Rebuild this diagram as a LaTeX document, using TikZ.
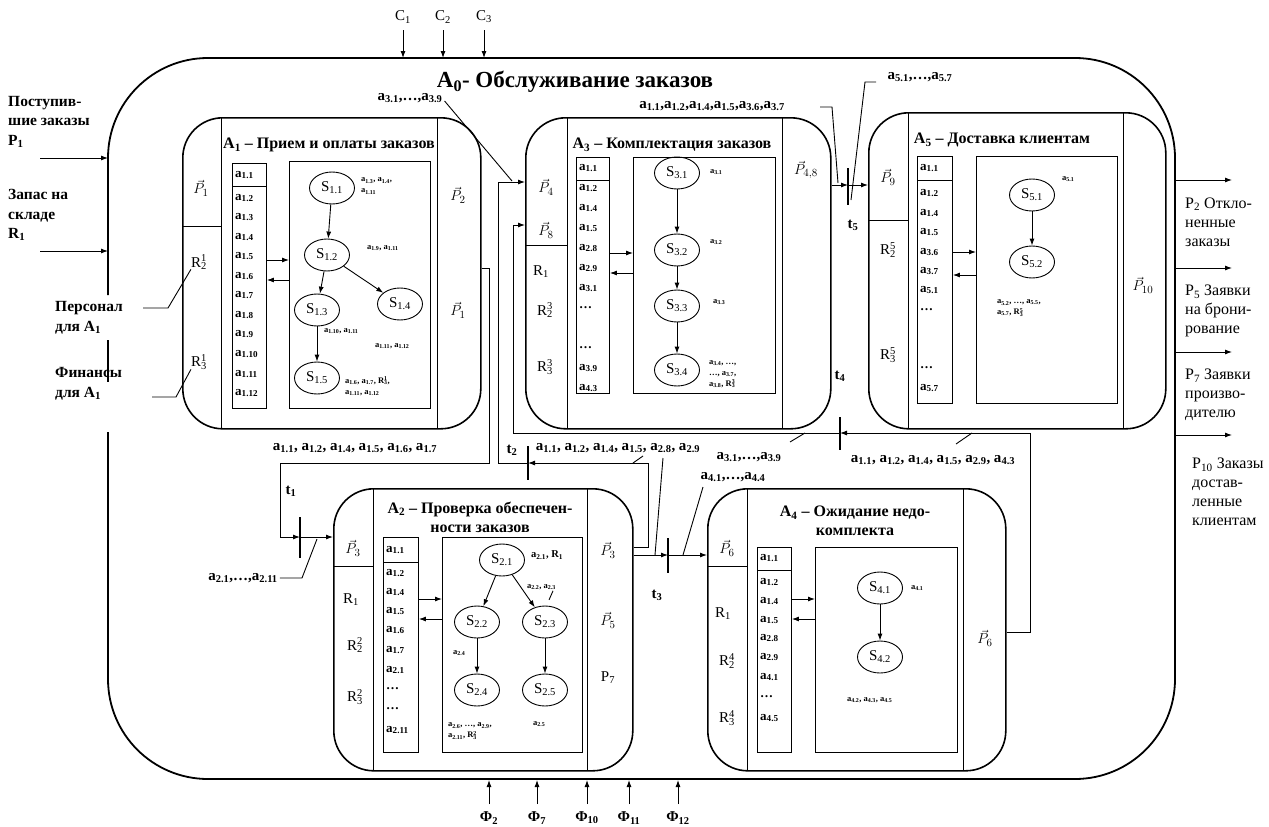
\documentclass[tikz,border=0pt]{standalone}
\usepackage{fontspec}
\setmainfont{Liberation Serif}
\usetikzlibrary{shapes.geometric,arrows.meta}
\newcommand\ai[1]{a\textsubscript{#1}}
\newcommand\Rr[2]{R\rlap{\textsuperscript{#1}}\textsubscript{#2}}
\newcommand\Pv[1]{$\vec{P}_{#1}$}
\newcommand\fs[1]{\fontsize{#1}{#1}\selectfont}
\begin{document}
\begin{tikzpicture}[x=1pt,y=-1pt,
  outer/.style={line width=1.8pt, rounded corners=100pt},
  blk/.style={draw, line width=1.6pt, rounded corners=40pt, anchor=north west, inner sep=0pt},
  bx/.style={draw, line width=0.9pt, anchor=north west, inner sep=0pt},
  ln/.style={line width=0.9pt},
  arr/.style={ln, -{Latex[length=7pt,width=5pt]}},
  tbar/.style={line width=2.2pt},
  st/.style={ellipse, draw, line width=0.9pt, minimum width=45pt, minimum height=32pt, inner sep=0pt, font=\fs{15}},
  li/.style={anchor=west, inner sep=0pt, font=\fs{13}\bfseries},
  sl/.style={anchor=west, align=left, inner sep=0pt, font=\fontsize{8.5}{11}\selectfont\bfseries},
  cl/.style={inner sep=0pt, font=\fs{15}},
  ttl/.style={inner sep=0pt, font=\fontsize{16}{19}\selectfont\bfseries, align=center},
  cn/.style={inner sep=0pt, font=\fs{15}\bfseries},
  lt/.style={inner sep=0pt, anchor=west, align=left, font=\fontsize{15.5}{19.5}\selectfont\bfseries},
  rt/.style={inner sep=0pt, anchor=west, align=left, font=\fontsize{16}{19}\selectfont},
]
\useasboundingbox (0,0) rectangle (1269,827);

% ---------- outer box A0 ----------
\draw[outer] (108,295) -- (108,58) -- (1175,58) -- (1175,779) -- (108,779) -- (108,432);
\draw[line width=1.8pt] (108,340) -- (108,382);
\node[inner sep=0pt, font=\fs{23}\bfseries] (A0t) at (575,82) {A\textsubscript{0}- Обслуживание заказов};

% top controls
\foreach \xx/\k in {403/1,443/2,484/3}{
  \node[cl] (C\k) at (\xx,17) {C\textsubscript{\k}};
  \draw[arr] (C\k.south |- 0,30) -- (\xx,58);
}
% bottom mechanisms
\foreach \xx/\k in {489/2,537/7,587/10,629/11,678/12}{
  \node[cl, font=\fs{15}\bfseries] (F\k) at (\xx,818) {Φ\textsubscript{\k}};
  \draw[arr] (\xx,804) -- (\xx,780);
}

% left inputs
\node[lt] (inP) at (8,122) {Поступив-\\шие заказы\\P\textsubscript{1}};
\node[lt] (inR) at (8,215) {Запас на\\складе\\R\textsubscript{1}};
\node[lt] (inPer) at (55,318) {Персонал\\для A\textsubscript{1}};
\node[lt] (inFin) at (55,384) {Финансы\\для A\textsubscript{1}};
\coordinate (iP) at (40,158); \coordinate (oP) at (108,158);
\coordinate (iR) at (40,251); \coordinate (oR) at (108,251);
\draw[arr] (iP) -- (oP);
\draw[arr] (iR) -- (oR);

% right outputs
\foreach \yy/\k in {180/2,268/5,352/7,435/10}{
  \coordinate (o\k) at (1175,\yy); \coordinate (e\k) at (1232,\yy);
  \draw[arr] (o\k) -- (e\k);
}
\node[rt] (outP2) at (1185,222) {P\textsubscript{2} Откло-\\ненные\\заказы};
\node[rt] (outP5) at (1185,311) {P\textsubscript{5} Заявки\\на брони-\\рование};
\node[rt] (outP7) at (1185,395) {P\textsubscript{7} Заявки\\произво-\\дителю};
\node[rt] (outP10) at (1192,492) {P\textsubscript{10} Заказы\\достав-\\ленные\\клиентам};

% ================= A1 =================
\node[blk, minimum width=298pt, minimum height=311pt] (A1) at (182,117) {};
\draw[ln] (221,117) -- (221,428) (437,117) -- (437,428) (182,226) -- (221,226);
\node[ttl] (A1t) at (329,145) {A\textsubscript{1} – Прием и оплаты заказов};
\node[bx, minimum width=34pt, minimum height=245pt] (L1) at (232,163) {};
\draw[ln] (232,186) -- (266,186);
\foreach \n/\yy in {1.1/175,1.2/198,1.3/217,1.4/237,1.5/256,1.6/276,1.7/295,1.8/315,1.9/334,1.10/354,1.11/374,1.12/393}
  \node[li] (L1i\yy) at (235,\yy) {\ai{\n}};
\node[bx, minimum width=141pt, minimum height=247pt] (B1) at (289,161) {};
\draw[arr] (L1.east |- 0,260) -- (B1.west |- 0,260);
\draw[arr] (B1.west |- 0,280) -- (L1.east |- 0,280);
\node[st] (s11) at (332,188) {S\textsubscript{1.1}};
\node[st] (s12) at (327,255) {S\textsubscript{1.2}};
\node[st] (s13) at (317,310) {S\textsubscript{1.3}};
\node[st] (s14) at (400,304) {S\textsubscript{1.4}};
\node[st] (s15) at (317,378) {S\textsubscript{1.5}};
\draw[arr] (s11) -- (s12);
\draw[arr] (s12) -- (s13);
\draw[arr] (s12) -- (s14);
\draw[arr] (s13) -- (s15);
\node[sl] (l11) at (361,186) {\ai{1.3}, \ai{1.4},\\\ai{1.11}};
\node[sl] (l12) at (367,248) {\ai{1.9}, \ai{1.11}};
\node[sl] (l13) at (324,331) {\ai{1.10}, \ai{1.11}};
\node[sl] (l14) at (375,346) {\ai{1.11}, \ai{1.12}};
\node[sl] (l15) at (345,386) {\ai{1.6}, \ai{1.7}, \Rr{1}{3},\\\ai{1.11}, \ai{1.12}};
\node[cl] (A1p1) at (201,188) {\Pv{1}};
\node[cl] (A1r2) at (199,262) {\Rr{1}{2}};
\node[cl] (A1r3) at (199,362) {\Rr{1}{3}};
\node[cl] (A1p2) at (458,195) {\Pv{2}};
\node[cl] (A1p1o) at (458,310) {\Pv{1}};
% leaders of resources
\draw[ln] (143,308) -- (168,308) -- (A1r2.south west);
\draw[ln] (152,397) -- (176,397) -- (A1r3.south west);

% ================= A3 =================
\node[blk, minimum width=305pt, minimum height=311pt] (A3) at (525,117) {};
\draw[ln] (567,117) -- (567,428) (782,117) -- (782,428) (525,245) -- (567,245);
\node[ttl] (A3t) at (672,145) {A\textsubscript{3} – Комплектация заказов};
\node[bx, minimum width=33pt, minimum height=236pt] (L3) at (576,157) {};
\draw[ln] (576,180) -- (609,180);
\foreach \n/\yy in {1.1/168,1.2/188,1.4/208,1.5/228,2.8/248,2.9/268,3.1/288,3.9/368,4.3/388}
  \node[li] (L3i\yy) at (579,\yy) {\ai{\n}};
\node[li] (L3d1) at (579,308) {…};
\node[li] (L3d2) at (579,348) {…};
\node[bx, minimum width=142pt, minimum height=236pt] (B3) at (633,157) {};
\draw[arr] (L3.east |- 0,253) -- (B3.west |- 0,253);
\draw[arr] (B3.west |- 0,273) -- (L3.east |- 0,273);
\node[st] (s31) at (677,173) {S\textsubscript{3.1}};
\node[st] (s32) at (677,250) {S\textsubscript{3.2}};
\node[st] (s33) at (677,306) {S\textsubscript{3.3}};
\node[st] (s34) at (677,370) {S\textsubscript{3.4}};
\draw[arr] (s31) -- (s32);
\draw[arr] (s32) -- (s33);
\draw[arr] (s33) -- (s34);
\node[sl] (l31) at (710,172) {\ai{3.1}};
\node[sl] (l32) at (710,242) {\ai{3.2}};
\node[sl] (l33) at (713,302) {\ai{3.3}};
\node[sl] (l34) at (709,374) {\ai{3.4}, …,\\…, \ai{3.7},\\\ai{3.8}, \Rr{3}{3}};
\node[cl] (A3p4) at (546,187) {\Pv{4}};
\node[cl] (A3p8) at (546,230) {\Pv{8}};
\node[cl] (A3r1) at (541,272) {R\textsubscript{1}};
\node[cl] (A3r2) at (545,310) {\Rr{3}{2}};
\node[cl] (A3r3) at (545,367) {\Rr{3}{3}};
\node[cl] (A3p48) at (806,170) {\Pv{4,8}};

% ================= A5 =================
\node[blk, minimum width=297pt, minimum height=316pt] (A5) at (868,112) {};
\draw[ln] (908,112) -- (908,428) (1123,112) -- (1123,428) (868,220) -- (908,220);
\node[ttl] (A5t) at (1002,140) {A\textsubscript{5} – Доставка клиентам};
\node[bx, minimum width=35pt, minimum height=247pt] (L5) at (917,156) {};
\draw[ln] (917,180) -- (952,180);
\foreach \n/\yy in {1.1/168,1.2/193,1.4/213,1.5/232,3.6/252,3.7/271,5.1/290,5.7/388}
  \node[li] (L5i\yy) at (920,\yy) {\ai{\n}};
\node[li] (L5d1) at (920,310) {…};
\node[li] (L5d2) at (920,368) {…};
\node[bx, minimum width=141pt, minimum height=247pt] (B5) at (976,156) {};
\draw[arr] (L5.east |- 0,252) -- (B5.west |- 0,252);
\draw[arr] (B5.west |- 0,275) -- (L5.east |- 0,275);
\node[st] (s51) at (1032,195) {S\textsubscript{5.1}};
\node[st] (s52) at (1032,262) {S\textsubscript{5.2}};
\draw[arr] (s51) -- (s52);
\node[sl] (l51) at (1062,179) {\ai{5.1}};
\node[sl] (l52) at (997,308) {\ai{5.2}, …, \ai{5.5},\\\ai{5.7}, \Rr{5}{3}};
\node[cl] (A5p9) at (888,177) {\Pv{9}};
\node[cl] (A5r2) at (888,250) {\Rr{5}{2}};
\node[cl] (A5r3) at (888,355) {\Rr{5}{3}};
\node[cl] (A5p10) at (1143,285) {\Pv{10}};

% ================= A2 =================
\node[blk, minimum width=299pt, minimum height=282pt] (A2) at (333,488) {};
\draw[ln] (373,488) -- (373,770) (587,488) -- (587,770) (333,566) -- (373,566);
\node[ttl] (A2t) at (480,517) {A\textsubscript{2} – Проверка обеспечен-\\ности заказов};
\node[bx, minimum width=35pt, minimum height=215pt] (L2) at (383,537) {};
\draw[ln] (383,562) -- (418,562);
\foreach \n/\yy in {1.1/550,1.2/573,1.4/592,1.5/611,1.6/630,1.7/650,2.1/670,2.11/730}
  \node[li] (L2i\yy) at (386,\yy) {\ai{\n}};
\node[li] (L2d1) at (386,689) {…};
\node[li] (L2d2) at (386,709) {…};
\node[bx, minimum width=140pt, minimum height=215pt] (B2) at (442,537) {};
\draw[arr] (L2.east |- 0,599) -- (B2.west |- 0,599);
\draw[arr] (B2.west |- 0,619) -- (L2.east |- 0,619);
\node[st] (s21) at (502,560) {S\textsubscript{2.1}};
\node[st] (s22) at (477,622) {S\textsubscript{2.2}};
\node[st] (s23) at (545,622) {S\textsubscript{2.3}};
\node[st] (s24) at (477,690) {S\textsubscript{2.4}};
\node[st] (s25) at (545,690) {S\textsubscript{2.5}};
\draw[arr] (s21) -- (s22);
\draw[arr] (s21) -- (s23);
\draw[arr] (s22) -- (s24);
\draw[arr] (s23) -- (s25);
\node[sl, font=\fs{10.5}\bfseries] (l21) at (531,555) {\ai{2.1}, R\textsubscript{1}};
\node[sl] (l23) at (527,587) {\ai{2.2}, \ai{2.3}};
\draw[ln] (l23.south east) ++(-3,1) -- ++(-4,9);
\node[sl] (l22) at (453,653) {\ai{2.4}};
\node[sl] (l24) at (448,731) {\ai{2.6}, …, \ai{2.9},\\\ai{2.11}, \Rr{2}{3}};
\node[sl] (l25) at (533,724) {\ai{2.5}};
\node[cl] (A2p3) at (353,548) {\Pv{3}};
\node[cl] (A2r1) at (351,600) {R\textsubscript{1}};
\node[cl] (A2r2) at (355,645) {\Rr{2}{2}};
\node[cl] (A2r3) at (355,697) {\Rr{2}{3}};
\node[cl] (A2p3o) at (608,550) {\Pv{3}};
\node[cl] (A2p5) at (608,620) {\Pv{5}};
\node[cl] (A2p7) at (608,678) {P\textsubscript{7}};

% ================= A4 =================
\node[blk, minimum width=298pt, minimum height=282pt] (A4) at (707,488) {};
\draw[ln] (747,488) -- (747,770) (963,488) -- (963,770) (707,566) -- (747,566);
\node[ttl] (A4t) at (855,521) {A\textsubscript{4} – Ожидание недо-\\комплекта};
\node[bx, minimum width=34pt, minimum height=205pt] (L4) at (757,547) {};
\draw[ln] (757,570) -- (791,570);
\foreach \n/\yy in {1.1/558,1.2/582,1.4/601,1.5/620,2.8/638,2.9/657,4.1/677,4.5/718}
  \node[li] (L4i\yy) at (760,\yy) {\ai{\n}};
\node[li] (L4d1) at (760,697) {…};
\node[bx, minimum width=142pt, minimum height=205pt] (B4) at (815,547) {};
\draw[arr] (L4.east |- 0,599) -- (B4.west |- 0,599);
\draw[arr] (B4.west |- 0,619) -- (L4.east |- 0,619);
\node[st] (s41) at (880,588) {S\textsubscript{4.1}};
\node[st] (s42) at (880,657) {S\textsubscript{4.2}};
\draw[arr] (s41) -- (s42);
\node[sl] (l41) at (911,588) {\ai{4.1}};
\node[sl] (l42) at (847,700) {\ai{4.2}, \ai{4.3}, \ai{4.5}};
\node[cl] (A4p6) at (727,548) {\Pv{6}};
\node[cl] (A4r1) at (723,614) {R\textsubscript{1}};
\node[cl] (A4r2) at (727,661) {\Rr{4}{2}};
\node[cl] (A4r3) at (727,718) {\Rr{4}{3}};
\node[cl] (A4p6o) at (985,638) {\Pv{6}};

% ================= connectors =================
% A1 -> A2 via t1
\coordinate (t1) at (300,537);
\draw[arr] (A1.east |- 0,268) -| (489,463) -| (280,537) -- (t1);
\draw[arr] (t1) -- (A2.west |- t1);
\draw[tbar] (300,517) -- (300,558);
\node[cn] (t1l) at (291,491) {t\textsubscript{1}};
\node[cn] (c1l) at (355,448) {\ai{1.1}, \ai{1.2}, \ai{1.4}, \ai{1.5}, \ai{1.6}, \ai{1.7}};
\node[cn] (c2l) at (243,578) {\ai{2.1},…,\ai{2.11}};
\draw[ln] (c2l.east) ++(2,0) -- (302,578) -- (317,539);

% A2 -> A3 via t2
\coordinate (t2) at (528,463);
\draw[arr] (A2.east |- 0,547) -| (648,463) -- (t2);
\draw[arr] (t2) -| (498,182) -- (A3.west |- 0,182);
\draw[tbar] (528,446) -- (528,480);
\node[cn] (t2l) at (512,450) {t\textsubscript{2}};
\node[cn] (c3l) at (618,448) {\ai{1.1}, \ai{1.2}, \ai{1.4}, \ai{1.5}, \ai{2.8}, \ai{2.9}};
\draw[ln] (633,463) -- (643,456);
\draw[ln] (663,458) -- (655,555);
\node[cn] (c4l) at (410,98) {\ai{3.1},…,\ai{3.9}};
\draw[ln] (c4l.east) ++(2,3) -- (512,181);

% A3 -> A5 via t5
\coordinate (t5) at (848,185);
\draw[arr] (A3.east |- 0,185) -- (t5);
\draw[arr] (t5) -- (A5.west |- t5);
\draw[tbar] (848,168) -- (848,205);
\node[cn] (t5l) at (853,225) {t\textsubscript{5}};
\node[cn] (c5l) at (712,106) {\ai{1.1},\ai{1.2},\ai{1.4},\ai{1.5},\ai{3.6},\ai{3.7}};
\draw[ln] (820,107) -- (832,107) -- (838,183);
\node[cn] (c6l) at (920,77) {\ai{5.1},…,\ai{5.7}};
\draw[ln] (876,82) -- (865,82) -- (851,200);

% A2 -> A4 via t3
\coordinate (t3) at (668,555);
\draw[arr] (A2.east |- 0,555) -- (t3);
\draw[arr] (t3) -- (A4.west |- t3);
\draw[tbar] (668,538) -- (668,573);
\node[cn] (t3l) at (657,595) {t\textsubscript{3}};
\node[cn] (c7l) at (733,477) {\ai{4.1},…,\ai{4.4}};
\draw[ln] (703,487) -- (683,555);

% A4 -> A3 via t4
\coordinate (t4) at (840,433);
\draw[arr] (A4.east |- 0,632) -| (1030,433) -- (t4);
\draw[arr] (t4) -| (513,225) -- (A3.west |- 0,225);
\draw[tbar] (840,417) -- (840,450);
\node[cn] (t4l) at (840,376) {t\textsubscript{4}};
\node[cn] (c8l) at (749,457) {\ai{3.1},…,\ai{3.9}};
\draw[ln] (790,442) -- (805,433);
\node[cn] (c9l) at (933,460) {\ai{1.1}, \ai{1.2}, \ai{1.4}, \ai{1.5}, \ai{2.9}, \ai{4.3}};
\draw[ln] (956,444) -- (972,433);
\end{tikzpicture}
\end{document}
